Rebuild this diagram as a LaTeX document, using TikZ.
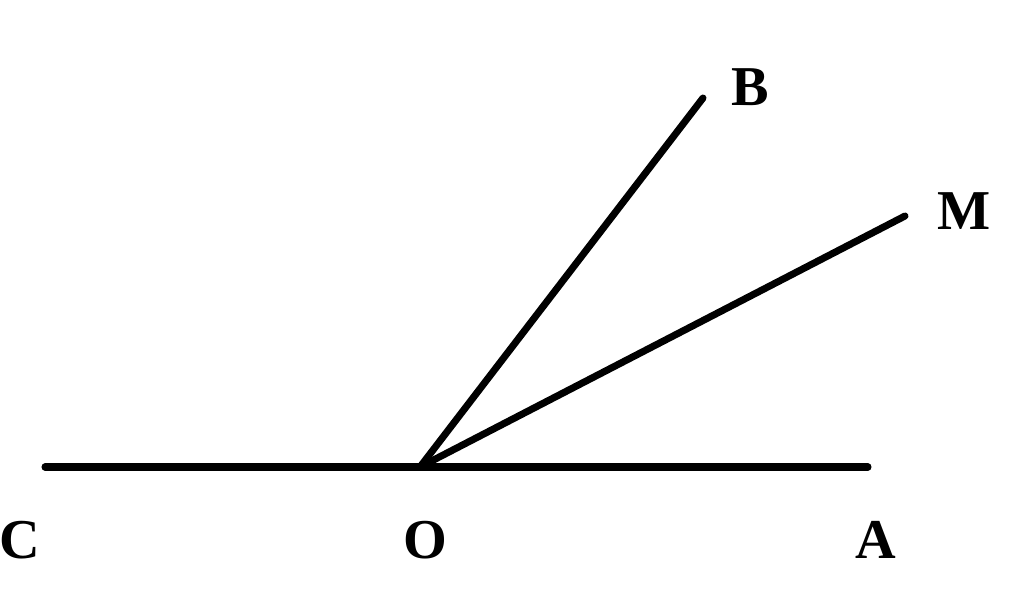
\documentclass[tikz,border=0pt]{standalone}
\usepackage{fontspec}
\setmainfont{Liberation Serif}
\begin{document}
\begin{tikzpicture}[x=0.01cm,y=-0.01cm,
  ray/.style={line width=2pt,line cap=round},
  lbl/.style={font=\fontsize{16}{19}\selectfont\bfseries,inner sep=0pt}]
\useasboundingbox (0,0) rectangle (1024,609);
\coordinate (C) at (45,467);
\coordinate (O) at (420,467);
\coordinate (A) at (868,467);
\coordinate (B) at (703,98);
\coordinate (M) at (905,216);
\draw[ray] (C) -- (A);
\draw[ray] (O) -- (B);
\draw[ray] (O) -- (M);
\node[lbl] (lC) at (20,540) {C};
\node[lbl] (lO) at (425,540) {O};
\node[lbl] (lA) at (876,540) {A};
\node[lbl] (lB) at (750,87) {B};
\node[lbl] (lM) at (964,211) {M};
\end{tikzpicture}
\end{document}
